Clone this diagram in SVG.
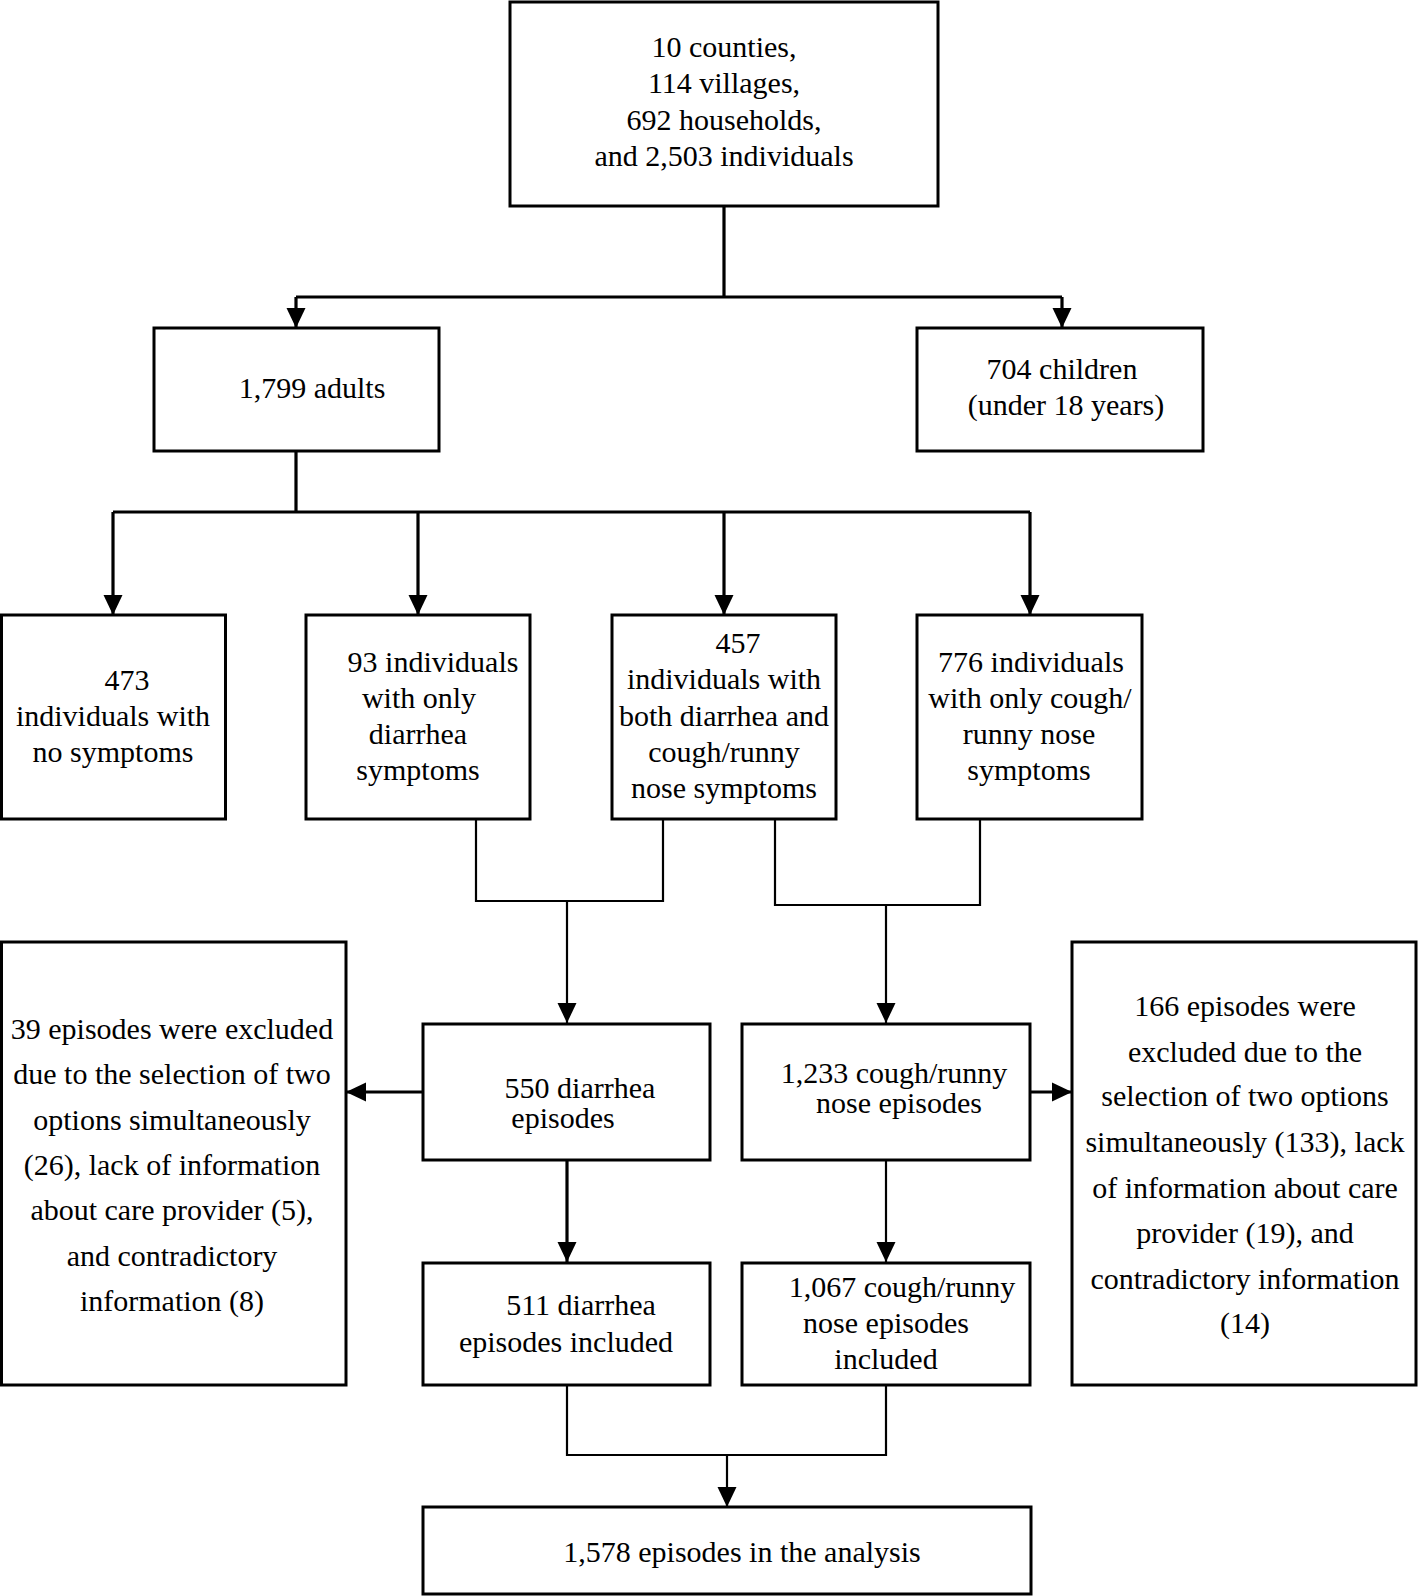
<svg xmlns="http://www.w3.org/2000/svg" width="1418" height="1596" viewBox="0 0 1418 1596">
<style>
.box{fill:#fff;stroke:#000;stroke-width:3}
.t{font-family:"Liberation Serif","Times New Roman",serif;font-size:30px;fill:#000;text-anchor:middle}
.thick{fill:none;stroke:#000;stroke-width:3.2}
.thin{fill:none;stroke:#000;stroke-width:2.2}
</style>
<defs>
<marker id="ah" markerUnits="userSpaceOnUse" markerWidth="20" markerHeight="20" refX="20" refY="10" orient="auto">
<path d="M0,0.5 L20,10 L0,19.5 Z" fill="#000"/>
</marker>
</defs>
<rect width="1418" height="1596" fill="#fff"/>
<g id="connectors">
<path class="thick" d="M724,206 V297 M296,297 H1062"/>
<path class="thick" d="M296,297 V328" marker-end="url(#ah)"/>
<path class="thick" d="M1062,297 V328" marker-end="url(#ah)"/>
<path class="thick" d="M296,451 V512 M113,512 H1030"/>
<path class="thick" d="M113,512 V615" marker-end="url(#ah)"/>
<path class="thick" d="M418,512 V615" marker-end="url(#ah)"/>
<path class="thick" d="M724,512 V615" marker-end="url(#ah)"/>
<path class="thick" d="M1030,512 V615" marker-end="url(#ah)"/>
<path class="thin" d="M476,819 V901 H663 V819"/>
<path class="thin" d="M567,901 V1023" marker-end="url(#ah)"/>
<path class="thin" d="M775,819 V905 H980 V819"/>
<path class="thin" d="M886,905 V1023" marker-end="url(#ah)"/>
<path class="thick" d="M423,1092 H346" marker-end="url(#ah)"/>
<path class="thick" d="M1030,1092 H1072" marker-end="url(#ah)"/>
<path class="thick" d="M567,1160 V1262" marker-end="url(#ah)"/>
<path class="thin" d="M886,1160 V1262" marker-end="url(#ah)"/>
<path class="thin" d="M567,1385 V1455 H886 V1385"/>
<path class="thin" d="M727,1455 V1507" marker-end="url(#ah)"/>
</g>
<g id="n-top">
<rect class="box" x="510" y="2" width="428" height="204"/>
<text class="t" x="724" y="57">10 counties,</text>
<text class="t" x="724" y="93">114 villages,</text>
<text class="t" x="724" y="129.5">692 households,</text>
<text class="t" x="724" y="166">and 2,503 individuals</text>
</g>
<g id="n-adults">
<rect class="box" x="154" y="328" width="285" height="123"/>
<text class="t" x="312" y="398">1,799 adults</text>
</g>
<g id="n-children">
<rect class="box" x="917" y="328" width="286" height="123"/>
<text class="t" x="1062" y="379">704 children</text>
<text class="t" x="1066" y="415">(under 18 years)</text>
</g>
<g id="n-none">
<rect class="box" x="1.5" y="615" width="224" height="204"/>
<text class="t" x="127" y="690">473</text>
<text class="t" x="113" y="726">individuals with</text>
<text class="t" x="113" y="762">no symptoms</text>
</g>
<g id="n-diarrhea">
<rect class="box" x="306" y="615" width="224" height="204"/>
<text class="t" x="433" y="672">93 individuals</text>
<text class="t" x="419" y="708">with only</text>
<text class="t" x="418" y="744">diarrhea</text>
<text class="t" x="418" y="780">symptoms</text>
</g>
<g id="n-both">
<rect class="box" x="612" y="615" width="224" height="204"/>
<text class="t" x="738" y="653">457</text>
<text class="t" x="724" y="689">individuals with</text>
<text class="t" x="724" y="726">both diarrhea and</text>
<text class="t" x="724" y="762">cough/runny</text>
<text class="t" x="724" y="798">nose symptoms</text>
</g>
<g id="n-cough">
<rect class="box" x="917" y="615" width="225" height="204"/>
<text class="t" x="1031" y="672">776 individuals</text>
<text class="t" x="1030" y="708">with only cough/</text>
<text class="t" x="1029" y="744">runny nose</text>
<text class="t" x="1029" y="780">symptoms</text>
</g>
<g id="n-excl-left">
<rect class="box" x="1.5" y="942" width="344.5" height="443"/>
<text class="t" x="172" y="1039">39 episodes were excluded</text>
<text class="t" x="172" y="1084">due to the selection of two</text>
<text class="t" x="172" y="1130">options simultaneously</text>
<text class="t" x="172" y="1175">(26), lack of information</text>
<text class="t" x="172" y="1220">about care provider (5),</text>
<text class="t" x="172" y="1266">and contradictory</text>
<text class="t" x="172" y="1311">information (8)</text>
</g>
<g id="n-550">
<rect class="box" x="423" y="1024" width="287" height="136"/>
<text class="t" x="580" y="1098">550 diarrhea</text>
<text class="t" x="563" y="1128">episodes</text>
</g>
<g id="n-1233">
<rect class="box" x="742" y="1024" width="288" height="136"/>
<text class="t" x="894" y="1083">1,233 cough/runny</text>
<text class="t" x="899" y="1113">nose episodes</text>
</g>
<g id="n-excl-right">
<rect class="box" x="1072" y="942" width="344" height="443"/>
<text class="t" x="1245" y="1016">166 episodes were</text>
<text class="t" x="1245" y="1061.5">excluded due to the</text>
<text class="t" x="1245" y="1106">selection of two options</text>
<text class="t" x="1245" y="1152">simultaneously (133), lack</text>
<text class="t" x="1245" y="1198">of information about care</text>
<text class="t" x="1245" y="1243">provider (19), and</text>
<text class="t" x="1245" y="1288.5">contradictory information</text>
<text class="t" x="1245" y="1333">(14)</text>
</g>
<g id="n-511">
<rect class="box" x="423" y="1263" width="287" height="122"/>
<text class="t" x="581" y="1315">511 diarrhea</text>
<text class="t" x="566" y="1352">episodes included</text>
</g>
<g id="n-1067">
<rect class="box" x="742" y="1263" width="288" height="122"/>
<text class="t" x="902" y="1297">1,067 cough/runny</text>
<text class="t" x="886" y="1333">nose episodes</text>
<text class="t" x="886" y="1369">included</text>
</g>
<g id="n-final">
<rect class="box" x="423" y="1507" width="608" height="87"/>
<text class="t" x="742" y="1562">1,578 episodes in the analysis</text>
</g>
</svg>
